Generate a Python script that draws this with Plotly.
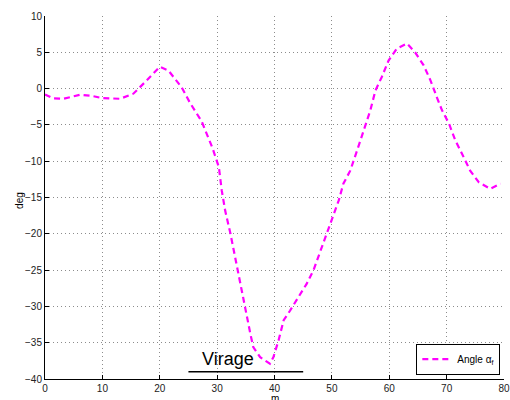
import plotly.graph_objects as go

dist_m = [0, 1.4, 3.2, 6.1, 8.1, 9.9, 13.1, 15.4, 17.7, 20, 21.5, 23, 23.8, 25.3, 27.3, 29.2,
          30.3, 30.8, 31.4, 32.3, 33.1, 34.0, 34.9, 35.8, 36.3, 37.5, 39.2, 39.8, 40.7, 41.6,
          42.7, 44.2, 45.6, 46.8, 48.0, 49.1, 50.3, 51.2, 52.0, 53.2, 54.4, 55.5, 56.7, 57.6,
          58.7, 59.9, 61.3, 63.1, 64.5, 66.0, 67.2, 68.3, 69.2, 70.4, 71.5, 72.7, 74.1, 75.6,
          77.6, 79.4]
angle_deg = [-0.8, -1.35, -1.4, -0.85, -1.0, -1.3, -1.4, -0.7, 1.1, 3.0, 2.5, 1.1, 0.2, -2.0,
             -4.5, -8.2, -10.8, -14.0, -16.8, -19.9, -23.2, -26.9, -30.1, -33.8, -35.6, -37.0,
             -37.9, -37.0, -34.7, -31.9, -30.6, -28.7, -26.9, -25.0, -22.3, -20.0, -17.4, -15.4,
             -13.1, -11.3, -8.5, -5.75, -3.0, -0.24, 1.6, 3.9, 5.5, 6.2, 5.0, 3.2, 1.1, -1.2,
             -3.0, -4.8, -7.1, -9.0, -11.3, -12.9, -13.8, -13.1]

virage_x = [25, 45]
virage_y = [-39, -39]

x_ticks = [0, 10, 20, 30, 40, 50, 60, 70, 80]
y_ticks = [10, 5, 0, -5, -10, -15, -20, -25, -30, -35, -40]

FONT = "Liberation Sans, Arial, sans-serif"

fig = go.Figure()
fig.add_trace(go.Scatter(
    x=dist_m, y=angle_deg, mode="lines", name="Angle α<sub>f</sub>",
    line=dict(color="#ff00ff", width=2.2, dash="6px,4px"),
))
fig.add_trace(go.Scatter(
    x=virage_x, y=virage_y, mode="lines", showlegend=False,
    line=dict(color="black", width=1.6),
))
fig.add_annotation(x=31.9, y=-37.3, text="Virage", showarrow=False,
                   font=dict(family=FONT, size=18, color="black"))

fig.update_layout(
    width=510, height=400,
    margin=dict(l=45, r=6, t=16, b=21, autoexpand=False),
    paper_bgcolor="white", plot_bgcolor="white",
    font=dict(family=FONT, size=10, color="#222"),
    showlegend=True,
    legend=dict(x=0.992, y=0.012, xanchor="right", yanchor="bottom",
                bordercolor="black", borderwidth=1, bgcolor="white",
                font=dict(family=FONT, size=10, color="black"),
                itemwidth=30, tracegroupgap=0),
)
fig.update_xaxes(
    range=[0, 80], tickvals=x_ticks, ticks="inside", ticklen=4, tickcolor="black",
    showline=True, linecolor="black", linewidth=1, mirror=False,
    showgrid=True, gridcolor="#8c8c8c", griddash="1px,3px", gridwidth=1,
    zeroline=False, tickfont=dict(size=10, color="#222"),
)
fig.update_yaxes(
    range=[-40, 10], tickvals=y_ticks, ticks="inside", ticklen=4, tickcolor="black",
    showline=True, linecolor="black", linewidth=1, mirror=False,
    showgrid=True, gridcolor="#8c8c8c", griddash="1px,3px", gridwidth=1,
    zeroline=False, tickfont=dict(size=10, color="#222"),
)
fig.add_annotation(x=0.5, y=0, xref="paper", yref="paper", yshift=-27, text="m",
                   showarrow=False, font=dict(family=FONT, size=10, color="black"))
fig.add_annotation(xref="paper", yref="paper", x=(12 - 45) / 459, y=(378.5 - 200) / 362.8,
                   text="deg", textangle=-90, showarrow=False,
                   font=dict(family=FONT, size=10, color="black"))
fig.write_html("out.html", config={"displayModeBar": False},
               post_script="document.body.style.margin='0';")
